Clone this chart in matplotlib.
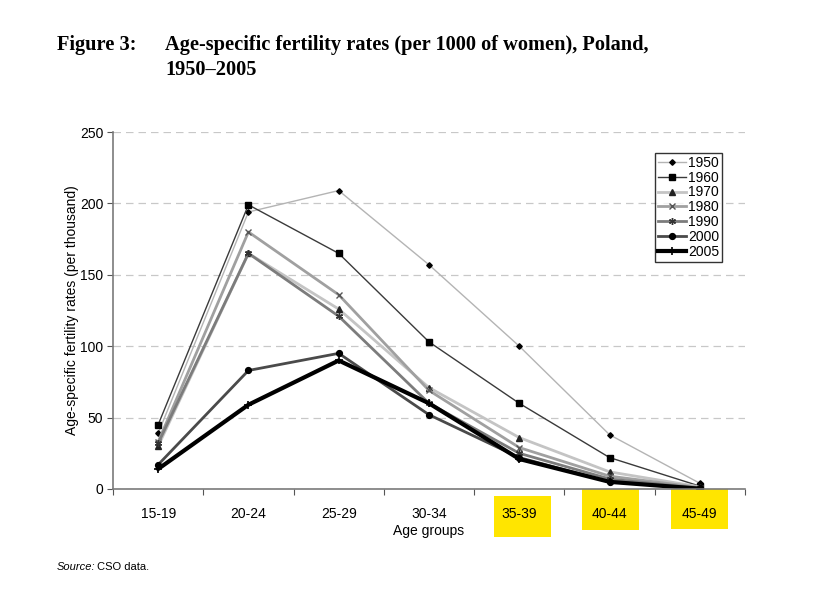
import matplotlib
matplotlib.use("Agg")
import matplotlib.pyplot as plt
from matplotlib.patches import Rectangle

age_groups = ["15-19", "20-24", "25-29", "30-34", "35-39", "40-44", "45-49"]
years = ["1950", "1960", "1970", "1980", "1990", "2000", "2005"]
r1950 = [39, 194, 209, 157, 100, 38, 4]
r1960 = [45, 199, 165, 103, 60, 22, 2]
r1970 = [30, 165, 126, 71, 36, 12, 1.5]
r1980 = [33, 180, 136, 69, 29, 9, 1]
r1990 = [32, 165, 121, 60, 25, 7, 0.5]
r2000 = [17, 83, 95, 52, 22, 5, 0.4]
r2005 = [14, 59, 90, 60, 21, 5, 0.2]
series = [r1950, r1960, r1970, r1980, r1990, r2000, r2005]

styles = [
    dict(color="#b4b4b4", lw=1.0, marker="D", ms=2.8, mfc="black", mec="black"),
    dict(color="#3a3a3a", lw=1.0, marker="s", ms=4.5, mfc="black", mec="black"),
    dict(color="#c4c4c4", lw=2.0, marker="^", ms=4.5, mfc="#222222", mec="#222222"),
    dict(color="#a0a0a0", lw=2.0, marker="x", ms=5, mfc="none", mec="#555555", mew=1),
    dict(color="#7c7c7c", lw=2.0, marker=(6, 2, 0), ms=5, mec="#333333", mew=1),
    dict(color="#4a4a4a", lw=2.0, marker="o", ms=4.2, mfc="black", mec="black"),
    dict(color="#000000", lw=3.0, marker="+", ms=6, mec="black", mew=1.2),
]

plt.rcParams["font.family"] = ["Liberation Sans", "DejaVu Sans"]
fig = plt.figure(figsize=(8.34, 5.89), dpi=100)
ax = fig.add_axes([113/834, 1-489/589, (745-113)/834, (489-132)/589])

x = list(range(len(age_groups)))
for y, lab, st in zip(series, years, styles):
    ax.plot(x, y, label=lab, **st)

ax.set_xlim(-0.5, 6.5)
ax.set_ylim(0, 250)
ax.set_yticks([0, 50, 100, 150, 200, 250])
ax.set_xticks([i + 0.5 for i in range(-1, 7)], minor=False)
ax.set_xticklabels([])
ax.set_xticks(x, minor=True)
ax.set_xticklabels(age_groups, minor=True)
ax.tick_params(axis="x", which="minor", length=0, pad=13, labelsize=10)
ax.tick_params(axis="x", which="major", length=4, color="#555555", direction="out")
ax.tick_params(axis="y", length=4, color="#555555", labelsize=10, pad=3)
ax.yaxis.grid(True, linestyle=(0, (6, 4)), color="#c8c8c8", lw=0.9)
ax.set_axisbelow(True)
for s in ["top", "right"]:
    ax.spines[s].set_visible(False)
for s in ["left", "bottom"]:
    ax.spines[s].set_color("#7a7a7a")
    ax.spines[s].set_linewidth(1.2)
ax.spines["bottom"].set_zorder(3)

ax.set_xlabel("Age groups", fontsize=10, labelpad=2)
ax.set_ylabel("Age-specific fertility rates (per thousand)", fontsize=10, labelpad=1)

leg = ax.legend(loc="upper left", bbox_to_anchor=((655-113)/632, (489-153)/357),
                fontsize=10, frameon=True, fancybox=False, edgecolor="black",
                borderpad=0.2, labelspacing=0.06, handlelength=2.0, handletextpad=0.2,
                borderaxespad=0)
leg.get_frame().set_linewidth(1.0)

# yellow highlight boxes behind the last three tick labels
for (x0, x1, y0, y1) in [(494, 551, 496, 537), (582, 639, 489, 530), (671, 728, 489, 529)]:
    fig.patches.append(Rectangle((x0/834, 1-y1/589), (x1-x0)/834, (y1-y0)/589,
                                 transform=fig.transFigure, facecolor="#ffe500",
                                 edgecolor="none", zorder=-1))

tfont = dict(family="Liberation Serif", weight="bold", fontsize=14.7)
fig.text(57/834, 1-50/589, "Figure 3:", **tfont)
fig.text(165/834, 1-50/589, "Age-specific fertility rates (per 1000 of women), Poland,", **tfont)
fig.text(165/834, 1-75/589, "1950\u20132005", **tfont)

fig.text(57/834, 1-570/589, "Source:", style="italic", fontsize=8)
fig.text(97/834, 1-570/589, "CSO data.", fontsize=8)

fig.savefig("out.png", dpi=100)
